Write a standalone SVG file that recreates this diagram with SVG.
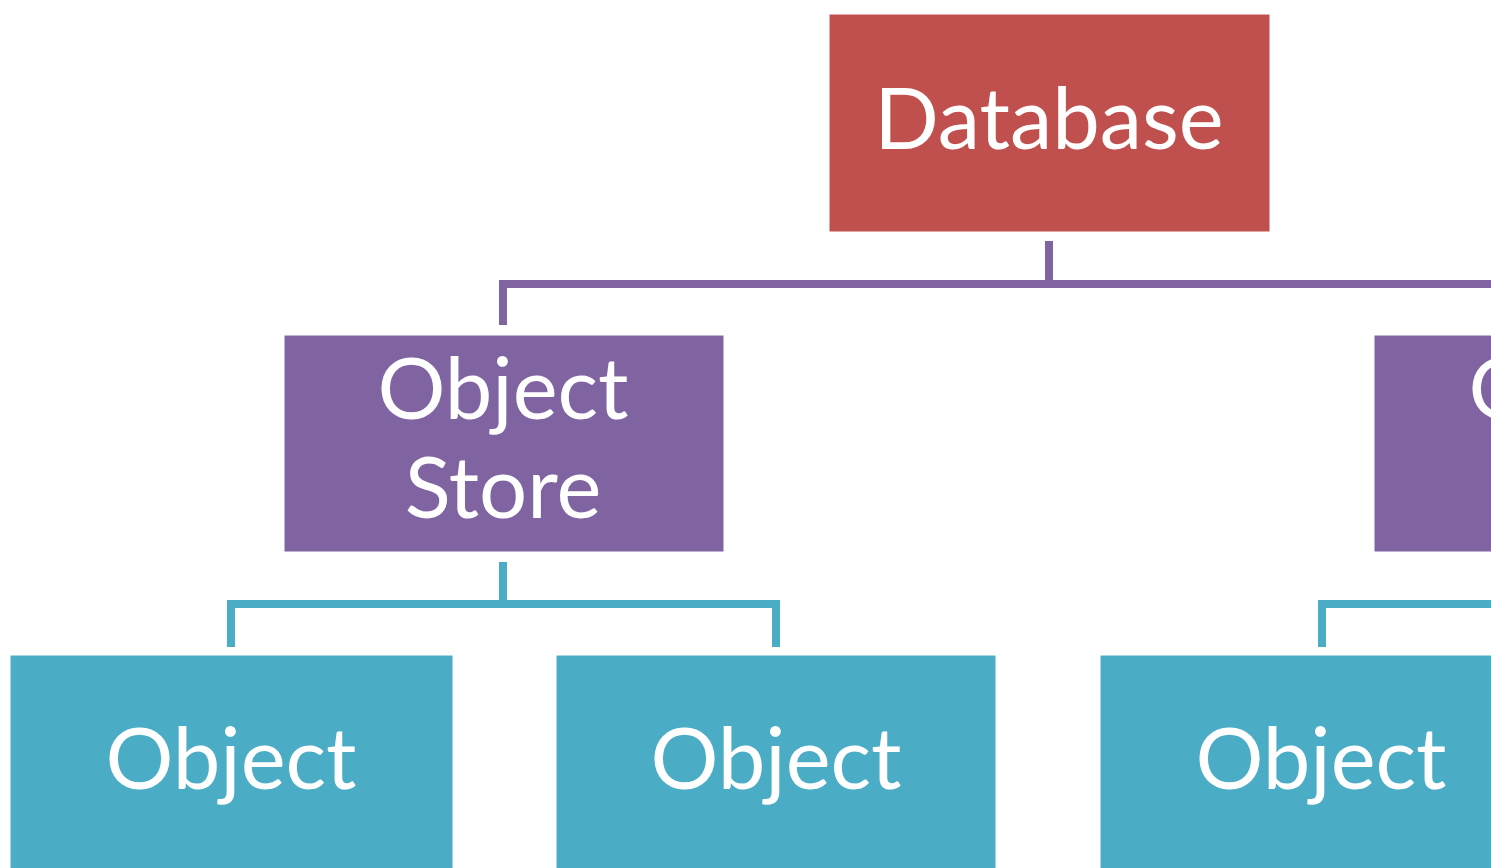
<svg xmlns="http://www.w3.org/2000/svg" width="1491" height="868" viewBox="0 0 1491 868">
  <style>
    .box { stroke: #ffffff; stroke-width: 1; }
    .red { fill: #C0504D; }
    .purple { fill: #8064A2; }
    .teal { fill: #4BACC6; }
    .label { fill: #ffffff; font-family: Lato, "Open Sans", sans-serif; font-size: 85px; text-anchor: middle; }
    .link { fill: none; stroke-width: 8; stroke-linejoin: miter; stroke-linecap: butt; }
    .link-purple { stroke: #8064A2; }
    .link-teal { stroke: #4BACC6; }
  </style>
  <rect width="1491" height="868" fill="#ffffff"/>

  <!-- connectors -->
  <g id="connectors">
    <path class="link link-purple" d="M1049,241 V284"/>
    <path class="link link-purple" d="M503,325 V284 H1600"/>
    <path class="link link-teal" d="M503,562 V604"/>
    <path class="link link-teal" d="M231,647 V604 H776 V647"/>
    <path class="link link-teal" d="M1322,647 V604 H1600"/>
  </g>

  <!-- root -->
  <g id="database">
    <rect class="box red" x="829" y="14" width="441" height="218"/>
    <text class="label" x="1049" y="149">Database</text>
  </g>

  <!-- second level -->
  <g id="object-store-1">
    <rect class="box purple" x="284" y="335" width="440" height="217"/>
    <text class="label" x="503" y="419">Object</text>
    <text class="label" x="503" y="518">Store</text>
  </g>
  <g id="object-store-2">
    <rect class="box purple" x="1374" y="335" width="440" height="217"/>
    <text class="label" x="1594" y="419">Object</text>
    <text class="label" x="1594" y="518">Store</text>
  </g>

  <!-- leaves -->
  <g id="object-1">
    <rect class="box teal" x="10" y="655" width="443" height="240"/>
    <text class="label" x="231" y="789">Object</text>
  </g>
  <g id="object-2">
    <rect class="box teal" x="556" y="655" width="440" height="240"/>
    <text class="label" x="776" y="789">Object</text>
  </g>
  <g id="object-3">
    <rect class="box teal" x="1100" y="655" width="441" height="240"/>
    <text class="label" x="1321" y="789">Object</text>
  </g>
</svg>
